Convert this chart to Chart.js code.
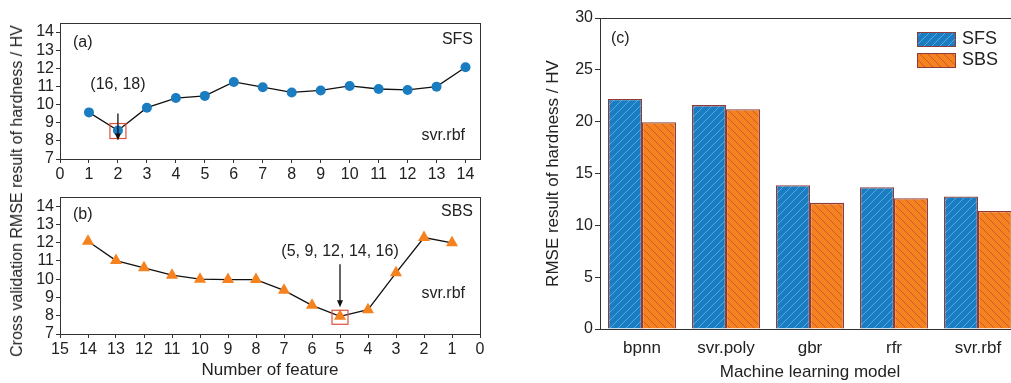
<!DOCTYPE html>
<html>
<head>
<meta charset="utf-8">
<script src="https://cdn.jsdelivr.net/npm/chart.js@4/dist/chart.umd.min.js"></script>
<style>
  html, body { margin: 0; padding: 0; background: #fff; overflow: hidden; }
  body { width: 1011px; height: 383px; position: relative; font-family: "Liberation Sans", Arial, sans-serif; }
  .box { position: absolute; }
  #sharedTitle {
    position: absolute; left: 17px; top: 191px; white-space: nowrap;
    transform: translate(-50%, -50%) rotate(-90deg);
    font-size: 16px; color: #222;
  }
</style>
</head>
<body>
<div class="box" style="left:0;top:0;width:500px;height:180px"><canvas id="chartA"></canvas></div>
<div class="box" style="left:0;top:180px;width:500px;height:203px"><canvas id="chartB"></canvas></div>
<div class="box" style="left:530px;top:0;width:500px;height:383px"><canvas id="chartC"></canvas></div>
<div id="sharedTitle">Cross validation RMSE result of hardness / HV</div>
<script>
// (a) sequential forward selection
const featuresSFS = [1, 2, 3, 4, 5, 6, 7, 8, 9, 10, 11, 12, 13, 14];
const rmseSFS = [9.57, 8.57, 9.83, 10.36, 10.48, 11.25, 10.96, 10.67, 10.78, 11.03, 10.86, 10.81, 10.99, 12.06];
const bestSFS = { x: 2, label: '(16, 18)' };
const xTicksA = [0, 1, 2, 3, 4, 5, 6, 7, 8, 9, 10, 11, 12, 13, 14];

// (b) sequential backward selection
const featuresSBS = [14, 13, 12, 11, 10, 9, 8, 7, 6, 5, 4, 3, 2, 1];
const rmseSBS = [12.08, 11.02, 10.62, 10.22, 10.0, 9.98, 9.98, 9.39, 8.57, 7.97, 8.33, 10.35, 12.28, 11.99];
const bestSBS = { x: 5, label: '(5, 9, 12, 14, 16)' };
const xTicksB = [0, 1, 2, 3, 4, 5, 6, 7, 8, 9, 10, 11, 12, 13, 14, 15];

const rmseTicks = [7, 8, 9, 10, 11, 12, 13, 14];

// (c) models
const models = ['bpnn', 'svr.poly', 'gbr', 'rfr', 'svr.rbf'];
const modelSFS = [22.18, 21.6, 13.87, 13.68, 12.78];
const modelSBS = [19.95, 21.2, 12.17, 12.62, 11.39];

const FONT = '"Liberation Sans", Arial, sans-serif';
const INK = '#222';
const BLUE = '#1a7cc1';
const ORANGE = '#f5821f';
const EDGE = '#8e3b3b';

Chart.defaults.font.family = FONT;
Chart.defaults.color = INK;

function hatch(bg, fg, dir) {
  const c = document.createElement('canvas');
  c.width = c.height = 8;
  const g = c.getContext('2d');
  g.fillStyle = bg;
  g.fillRect(0, 0, 8, 8);
  g.strokeStyle = fg;
  g.lineWidth = 0.9;
  g.beginPath();
  if (dir === '/') {
    g.moveTo(-1, 9); g.lineTo(9, -1);
    g.moveTo(-1, 1); g.lineTo(1, -1);
    g.moveTo(7, 9); g.lineTo(9, 7);
  } else {
    g.moveTo(-1, -1); g.lineTo(9, 9);
    g.moveTo(-1, 7); g.lineTo(1, 9);
    g.moveTo(7, -1); g.lineTo(9, 1);
  }
  g.stroke();
  return g.createPattern(c, 'repeat');
}
const blueHatch = hatch(BLUE, '#62ace3', '/');
const orangeHatch = hatch(ORANGE, '#c05a35', '\\');

// frame around plot + panel texts
const frame = {
  id: 'frame',
  afterDraw(chart, args, o) {
    const { ctx, chartArea: a } = chart;
    ctx.save();
    ctx.strokeStyle = '#333';
    ctx.lineWidth = 1;
    ctx.strokeRect(a.left + 0.5, a.top + 0.5, a.right - a.left, a.bottom - a.top);
    ctx.fillStyle = INK;
    ctx.font = '16px ' + FONT;
    ctx.textBaseline = 'middle';
    (o.texts || []).forEach(t => {
      ctx.textAlign = t.align;
      ctx.fillText(t.text, t.right ? a.right - t.x : a.left + t.x, a.top + t.y);
    });
    ctx.restore();
  }
};

// marks the best subset: label, arrow, red square
const bestMark = {
  id: 'bestMark',
  afterDatasetsDraw(chart, args, o) {
    if (!o.best) return;
    const { ctx, scales } = chart;
    const ds = chart.data.datasets[0].data;
    const pt = ds.find(p => p.x === o.best.x);
    const px = scales.x.getPixelForValue(pt.x);
    const py = scales.y.getPixelForValue(pt.y);
    ctx.save();
    ctx.strokeStyle = '#e0523e';
    ctx.lineWidth = 1.2;
    ctx.strokeRect(px - o.box[0], py + o.box[1], o.box[2], o.box[3]);
    ctx.strokeStyle = '#111';
    ctx.fillStyle = '#111';
    ctx.lineWidth = 1.3;
    ctx.beginPath();
    ctx.moveTo(px, py + o.arrow[0]);
    ctx.lineTo(px, py + o.arrow[1] - 5);
    ctx.stroke();
    ctx.beginPath();
    ctx.moveTo(px - 3, py + o.arrow[1] - 7);
    ctx.lineTo(px + 3, py + o.arrow[1] - 7);
    ctx.lineTo(px, py + o.arrow[1]);
    ctx.closePath();
    ctx.fill();
    ctx.font = '16px ' + FONT;
    ctx.textAlign = 'center';
    ctx.textBaseline = 'middle';
    ctx.fillStyle = INK;
    ctx.fillText(o.best.label, px, py + o.textDy);
    ctx.restore();
  }
};

function fixedTicks(values) {
  return scale => { scale.ticks = values.map(v => ({ value: v })); };
}

function axisStyle() {
  return {
    grid: { display: true, drawOnChartArea: false, drawTicks: true, tickLength: 4, color: '#333' },
    border: { display: true, color: '#333', width: 1 },
    ticks: { font: { size: 16 }, color: INK, padding: 2, autoSkip: false, maxRotation: 0 }
  };
}

function lineChart(id, xs, ys, cfg) {
  const x = axisStyle();
  const y = axisStyle();
  return new Chart(document.getElementById(id), {
    type: 'line',
    data: {
      datasets: [{
        data: xs.map((v, i) => ({ x: v, y: ys[i] })),
        borderColor: '#111',
        borderWidth: 1.3,
        pointStyle: cfg.pointStyle,
        pointRadius: cfg.pointRadius,
        pointBackgroundColor: cfg.color,
        pointBorderColor: cfg.color,
        pointBorderWidth: 0,
        tension: 0
      }]
    },
    options: {
      responsive: true,
      maintainAspectRatio: false,
      animation: false,
      layout: { padding: { top: cfg.top, right: 20, left: 0, bottom: 0 } },
      plugins: {
        legend: { display: false },
        tooltip: { enabled: false },
        frame: { texts: cfg.texts },
        bestMark: cfg.mark
      },
      scales: {
        x: Object.assign(x, {
          type: 'linear', min: 0, max: cfg.xMax, reverse: cfg.reverse,
          afterBuildTicks: fixedTicks(cfg.xTicks),
          afterFit: s => { s.height = cfg.xHeight; },
          title: cfg.xTitle ? { display: true, text: cfg.xTitle, font: { size: 17 }, color: INK, padding: { top: 4, bottom: 2 } } : { display: false }
        }),
        y: Object.assign(y, {
          min: 7, max: 14.5,
          afterBuildTicks: fixedTicks(rmseTicks),
          afterFit: s => { s.width = 60; }
        })
      }
    },
    plugins: [frame, bestMark]
  });
}

lineChart('chartA', featuresSFS, rmseSFS, {
  color: BLUE, pointStyle: 'circle', pointRadius: 5,
  top: 23, xHeight: 21, xMax: 14.5, reverse: false, xTicks: xTicksA,
  texts: [
    { text: '(a)', x: 13, y: 20, align: 'left' },
    { text: 'SFS', x: 7, y: 17, align: 'right', right: true },
    { text: 'svr.rbf', x: 15, y: 113, align: 'right', right: true }
  ],
  mark: { best: bestSFS, box: [8, -7, 16, 15], arrow: [-17, 10], textDy: -46 }
});

lineChart('chartB', featuresSBS, rmseSBS, {
  color: ORANGE, pointStyle: 'triangle', pointRadius: 7,
  top: 17, xHeight: 49, xMax: 15, reverse: true, xTicks: xTicksB, xTitle: 'Number of feature',
  texts: [
    { text: '(b)', x: 13, y: 18, align: 'left' },
    { text: 'SBS', x: 7, y: 15, align: 'right', right: true },
    { text: 'svr.rbf', x: 15, y: 97, align: 'right', right: true }
  ],
  mark: { best: bestSBS, box: [8, -6, 16, 14], arrow: [-52, -9], textDy: -65 }
});

// legend drawn inside the plot of (c)
const barLegend = {
  id: 'barLegend',
  afterDraw(chart) {
    const { ctx, chartArea: a } = chart;
    ctx.save();
    ctx.font = '18px ' + FONT;
    ctx.textBaseline = 'middle';
    ctx.textAlign = 'left';
    chart.data.datasets.forEach((ds, i) => {
      const bx = a.left + 317, by = a.top + 14 + i * 21;
      ctx.fillStyle = ds.backgroundColor;
      ctx.fillRect(bx, by, 38, 14);
      ctx.strokeStyle = EDGE;
      ctx.lineWidth = 1;
      ctx.strokeRect(bx + 0.5, by + 0.5, 38, 14);
      ctx.fillStyle = INK;
      ctx.fillText(ds.label, bx + 45, by + 7.5);
    });
    ctx.fillStyle = INK;
    ctx.font = '16px ' + FONT;
    ctx.fillText('(c)', a.left + 11, a.top + 21);
    ctx.restore();
  }
};

const cx = axisStyle();
const cy = axisStyle();
new Chart(document.getElementById('chartC'), {
  type: 'bar',
  data: {
    labels: models,
    datasets: [
      { label: 'SFS', data: modelSFS, backgroundColor: blueHatch, borderColor: EDGE, borderWidth: 1.3 },
      { label: 'SBS', data: modelSBS, backgroundColor: orangeHatch, borderColor: EDGE, borderWidth: 1.3 }
    ]
  },
  options: {
    responsive: true,
    maintainAspectRatio: false,
    animation: false,
    categoryPercentage: 0.81,
    barPercentage: 1,
    layout: { padding: { top: 18, right: 10, left: 0, bottom: 0 } },
    plugins: { legend: { display: false }, tooltip: { enabled: false }, frame: { texts: [] } },
    scales: {
      x: Object.assign(cx, {
        grid: { display: false },
        ticks: { font: { size: 17 }, color: INK, padding: 1, maxRotation: 0 },
        afterFit: s => { s.height = 54; },
        title: { display: true, text: 'Machine learning model', font: { size: 17 }, color: INK, padding: { top: 4, bottom: 0 } }
      }),
      y: Object.assign(cy, {
        min: 0, max: 30,
        ticks: { font: { size: 16 }, color: INK, padding: 2, stepSize: 5 },
        grid: { display: true, drawOnChartArea: false, tickLength: 5, color: '#333' },
        afterFit: s => { s.width = 70; },
        title: { display: true, text: 'RMSE result of hardness / HV', font: { size: 17 }, color: INK, padding: { top: 13, bottom: 0 } }
      })
    }
  },
  plugins: [frame, barLegend]
});
</script>
</body>
</html>
